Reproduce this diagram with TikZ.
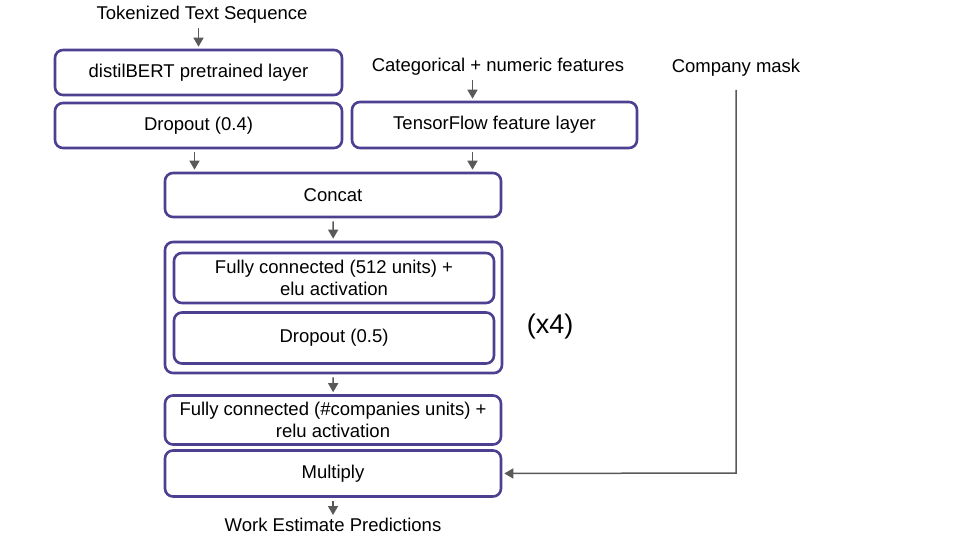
\documentclass[tikz,border=0pt]{standalone}
\usepackage{fontspec}
\setmainfont{Liberation Sans}
\usetikzlibrary{arrows.meta}
\definecolor{layerpurple}{RGB}{76,64,145}
\definecolor{flowgray}{RGB}{89,89,89}
\tikzset{
  layer/.style={draw=layerpurple,line width=2.6pt,rounded corners=8pt,fill=white,
    align=center,inner sep=0pt,font=\fontsize{18.5}{21.5}\selectfont},
  label/.style={font=\fontsize{18.5}{21.5}\selectfont,inner sep=1pt},
  flow/.style={draw=flowgray,line width=1.5pt,-{Triangle[length=9pt,width=10pt]},
    shorten >=2pt,shorten <=3pt}
}
\begin{document}
\begin{tikzpicture}[x=1pt,y=-1pt]
            \useasboundingbox (0,0) rectangle (960,540);
            % inputs
            \node [label] (tok) at (202,15) {Tokenized Text Sequence};
            \node [label] (cat) at (498,67) {Categorical + numeric features};
            \node [label] (mask) at (736,68) {Company mask};
            % layers
            \node [layer,minimum width=287pt,minimum height=45pt] (bert) at (198.5,72.5) {distilBERT pretrained layer};
            \node [layer,minimum width=287pt,minimum height=45pt] (drop1) at (198.5,125.5) {Dropout (0.4)};
            \node [layer,minimum width=285pt,minimum height=46pt] (tffeat) at (494.5,125) {TensorFlow feature layer};
            \node [layer,minimum width=336pt,minimum height=44pt] (concat) at (333,195) {Concat};
            \node [layer,minimum width=337pt,minimum height=131pt] (group) at (333.5,307.5) {};
            \node [layer,minimum width=320pt,minimum height=50pt] (fc1) at (334,278) {Fully connected (512 units) +\\elu activation};
            \node [layer,minimum width=320pt,minimum height=51pt] (drop2) at (334,338) {Dropout (0.5)};
            \node [label,font=\fontsize{27}{31}\selectfont] (rep) at (550,327) {(x4)};
            \node [layer,minimum width=336pt,minimum height=49pt] (fc2) at (333,420) {Fully connected (\#companies units) +\\relu activation};
            \node [layer,minimum width=336pt,minimum height=46pt] (mult) at (333,473.5) {Multiply};
            \node [label] (out) at (333,525) {Work Estimate Predictions};
            % connectors
            \draw [flow] (tok.south -| bert.north) -- (bert.north);
            \draw [flow] ([xshift=-22pt]tffeat.north |- cat.south) -- ([xshift=-22pt]tffeat.north);
            \draw [flow] ([xshift=-4pt]drop1.south) -- ([xshift=-4pt]drop1.south |- concat.north);
            \draw [flow] ([xshift=-22pt]tffeat.south) -- ([xshift=-22pt]tffeat.south |- concat.north);
            \draw [flow] (concat) -- (group);
            \draw [flow] (group) -- (fc2);
            \draw [flow] (mult) -- (out);
            \coordinate (maskturn) at (736,473);
            \draw [flow,rounded corners=0pt,shorten <=12pt] (mask.south) -- (maskturn) -- (mult.east);
        \end{tikzpicture}
\end{document}
